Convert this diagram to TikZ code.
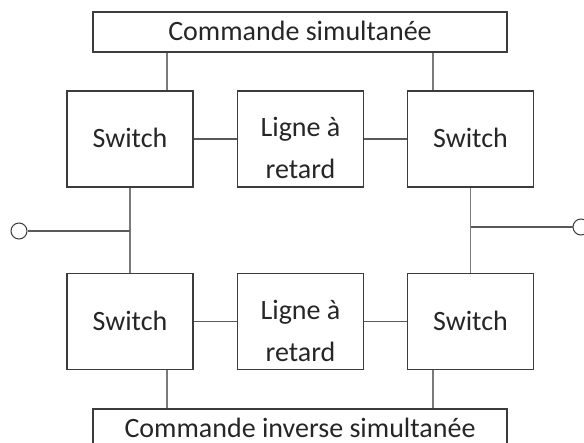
\documentclass[tikz,border=0pt]{standalone}
\usepackage{fontspec}
\setmainfont{Carlito}
\definecolor{boxc}{HTML}{3C3C3C}
\definecolor{linec}{HTML}{5A5A5A}
\definecolor{greyc}{HTML}{7A7A7A}
\definecolor{txtc}{HTML}{262626}
\begin{document}
\begin{tikzpicture}[x=1pt,y=-1pt,
  box/.style={draw=boxc, line width=1.1pt, rectangle, inner sep=0pt,
    font=\fontsize{28}{41}\selectfont, text=txtc, text height=20pt, text depth=2pt},
  swbox/.style={box, minimum width=126pt, minimum height=96pt},
  cmdbox/.style={box, minimum width=414pt, minimum height=40pt},
  lbl/.style={inner sep=0pt, align=center, font=\fontsize{28}{41}\selectfont, text=txtc},
  conn/.style={draw=linec, line width=1.1pt},
  gconn/.style={draw=greyc, line width=1.1pt},
  port/.style={circle, draw=boxc, line width=1pt, minimum size=16pt, inner sep=0pt}
]
\useasboundingbox (0,0) rectangle (584,443);
\node[cmdbox] (cmdtop) at (300,32) {Commande simultanée};
\node[swbox] (swTL) at (130,139) {Switch};
\node[swbox] (ligT) at (300.5,139) {};
\node[lbl] (ligTt) at (300.5,148) {Ligne à\\[1pt]retard};
\node[swbox] (swTR) at (470.5,139) {Switch};
\node[swbox] (swBL) at (130,321.5) {Switch};
\node[swbox] (ligB) at (300.5,321.5) {};
\node[lbl] (ligBt) at (300.5,330.5) {Ligne à\\[1pt]retard};
\node[swbox] (swBR) at (470.5,321.5) {Switch};
\node[cmdbox] (cmdbot) at (300,429) {Commande inverse simultanée};
\node[port] (inL) at (19,231) {};
\node[port] (inR) at (581,227) {};
\coordinate (ca) at (167,0);
\coordinate (cb) at (433,0);
\draw[gconn] (ca |- cmdtop.south) -- (ca |- swTL.north);
\draw[gconn] (cb |- cmdtop.south) -- (cb |- swTR.north);
\draw[gconn] (ca |- swBL.south) -- (ca |- cmdbot.north);
\draw[gconn] (cb |- swBR.south) -- (cb |- cmdbot.north);
\draw[conn] (swTL) -- (ligT);
\draw[conn] (ligT) -- (swTR);
\draw[conn] (swBL) -- (ligB);
\draw[conn] (ligB) -- (swBR);
\draw[gconn] (swTL.south) -- (swBL.north);
\draw[gconn] (swTR.south) -- (swBR.north);
\draw[conn] (inL.east) -- (inL.east -| swTL.south);
\draw[conn] (inR.west) -- (inR.west -| swTR.south);
\end{tikzpicture}
\end{document}
